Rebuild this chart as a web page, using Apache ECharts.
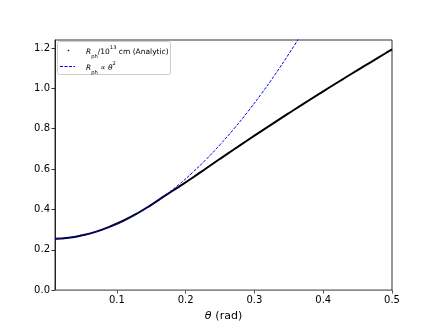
<!DOCTYPE html>
<html>
<head>
<meta charset="utf-8">
<script src="https://cdn.jsdelivr.net/npm/echarts@6/dist/echarts.min.js"></script>
<style>
  html, body { margin: 0; padding: 0; background: #fff; }
  #chart { width: 436px; height: 327px; }
</style>
</head>
<body>
<div id="chart"></div>
<script>
  // theta (rad) and R_ph / 1e13 cm
  var thetaAnalytic = [0.01, 0.03, 0.05, 0.07, 0.09, 0.11, 0.13, 0.15, 0.17, 0.19, 0.21, 0.23, 0.25,
    0.27, 0.29, 0.31, 0.33, 0.35, 0.37, 0.39, 0.41, 0.43, 0.45, 0.47, 0.49, 0.50]
  var rAnalytic = [0.254, 0.259, 0.272, 0.290, 0.315, 0.345, 0.381, 0.423, 0.468, 0.512, 0.557, 0.604, 0.651,
    0.697, 0.743, 0.788, 0.833, 0.877, 0.921, 0.964, 1.007, 1.049, 1.091, 1.132, 1.173, 1.193]

  var thetaFit = [0.01, 0.03, 0.05, 0.07, 0.09, 0.11, 0.13, 0.15, 0.17, 0.19, 0.21, 0.23, 0.25,
    0.27, 0.29, 0.31, 0.33, 0.35, 0.37]
  var rFit = [0.254, 0.260, 0.272, 0.290, 0.314, 0.344, 0.380, 0.422, 0.470, 0.523, 0.583, 0.649, 0.721,
    0.799, 0.883, 0.973, 1.069, 1.171, 1.278]

  var xTicks = [0.1, 0.2, 0.3, 0.4, 0.5]

  var nameAnalytic = 'analytic'
  var nameFit = 'fit'

  function pairs(xs, ys) {
    return xs.map(function (x, i) { return [x, ys[i]] })
  }

  var rich = {
    i: { fontStyle: 'italic', fontSize: 7.5, lineHeight: 10 },
    sub: { fontSize: 5.2, verticalAlign: 'bottom', lineHeight: 7, padding: [0, 0, -2, 0] },
    sup: { fontSize: 5.2, verticalAlign: 'top', lineHeight: 7, padding: [-2, 0, 0, 0] },
    n: { fontSize: 7.5, lineHeight: 10 }
  }

  // legend keys are drawn by hand below, the legend only keeps the texts
  var hiddenKey = { itemStyle: { opacity: 0 }, lineStyle: { opacity: 0 } }

  var chart = echarts.init(document.getElementById('chart'))
  chart.setOption({
    animation: false,
    textStyle: { fontFamily: 'DejaVu Sans' },
    grid: {
      left: 55, right: 44, top: 40, bottom: 36,
      show: true, borderColor: '#333', borderWidth: 1
    },
    xAxis: {
      type: 'value',
      min: 0.01,
      max: 0.5,
      splitLine: { show: false },
      axisLine: { show: true, lineStyle: { color: '#888' } },
      axisTick: { show: true, length: 3.5, customValues: xTicks, lineStyle: { color: '#555' } },
      axisLabel: {
        customValues: xTicks,
        color: '#000', fontSize: 10, margin: 5,
        formatter: function (v) { return v.toFixed(1) }
      },
      name: '{i|θ} {n|(rad)}',
      nameLocation: 'middle',
      nameGap: 19,
      nameTextStyle: {
        rich: {
          i: { fontStyle: 'italic', fontSize: 11, color: '#000' },
          n: { fontSize: 11, color: '#000' }
        }
      }
    },
    yAxis: {
      type: 'value',
      min: 0,
      max: 1.24,
      interval: 0.2,
      splitLine: { show: false },
      axisLine: { show: true, lineStyle: { color: '#222' } },
      axisTick: { show: true, length: 3.5, lineStyle: { color: '#333' } },
      axisLabel: {
        color: '#000', fontSize: 10, margin: 5,
        formatter: function (v) { return v.toFixed(1) }
      }
    },
    legend: [Object.assign({
      data: [{ name: nameAnalytic }],
      left: 66, top: 45,
      itemWidth: 14, itemHeight: 2, itemGap: 0,
      padding: 0,
      textStyle: { fontSize: 7.5, color: '#000', padding: [0, 0, 0, 0], rich: rich },
      formatter: function () {
        return '{i|R}{sub|ph}{n|/10}{sup|13}{n| cm (Analytic)}'
      }
    }, hiddenKey), Object.assign({
      data: [{ name: nameFit }],
      left: 66, top: 61,
      itemWidth: 14, itemHeight: 2, itemGap: 0,
      padding: 0,
      textStyle: { fontSize: 7.5, color: '#000', padding: [0, 0, 0, 0], rich: rich },
      formatter: function () {
        return '{i|R}{sub|ph}{n| ∝ }{i|θ}{sup|2}'
      }
    }, hiddenKey)],
    graphic: [{
      type: 'rect',
      left: 57, top: 41,
      shape: { width: 113, height: 33, r: 2 },
      style: { fill: 'rgba(255,255,255,0.8)', stroke: '#ccc', lineWidth: 1 },
      z: 0
    }, {
      type: 'circle',
      shape: { cx: 68.5, cy: 50.5, r: 0.8 },
      style: { fill: '#000' },
      z: 10
    }, {
      type: 'line',
      shape: { x1: 60, y1: 66.5, x2: 75, y2: 66.5 },
      style: { stroke: '#0000ff', lineWidth: 1, lineDash: [3, 1.5] },
      z: 10
    }],
    series: [{
      name: nameAnalytic,
      type: 'line',
      data: pairs(thetaAnalytic, rAnalytic),
      smooth: true,
      showSymbol: false,
      itemStyle: { color: '#000' },
      lineStyle: { color: '#000', width: 2 },
      z: 2
    }, {
      name: nameFit,
      type: 'line',
      data: pairs(thetaFit, rFit),
      smooth: true,
      showSymbol: false,
      itemStyle: { color: '#0000ff' },
      lineStyle: { color: '#0000ff', width: 1, type: [3, 1.5] },
      z: 3
    }]
  })
</script>
</body>
</html>
